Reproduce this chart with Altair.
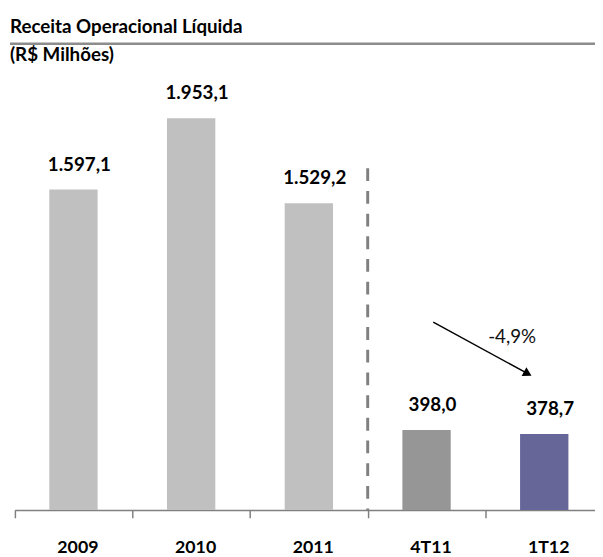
import altair as alt
import pandas as pd

# ---- data ----
categories = ["2009", "2010", "2011", "4T11", "1T12"]
values = [1597.1, 1953.1, 1529.2, 398.0, 378.7]
value_labels = ["1.597,1", "1.953,1", "1.529,2", "398,0", "378,7"]
bar_colors = ["#C0C0C0", "#C0C0C0", "#C0C0C0", "#969696", "#666699"]

# arrow (in band units along x, data units along y)
arrow_x = [3.557]
arrow_x2 = [4.36]
arrow_y = [936.2]
arrow_y2 = [679.4]
arrow_label = ["-4,9%"]
arrow_label_x = [4.227]
arrow_label_y = [861.0]

# dashed separator between annual and quarterly data
sep_x = [3.0]
sep_top = [1703.7]
sep_bottom = [0.0]

title_lines = ["Receita Operacional Líquida", "(R$ Milhões)"]

FONT = "Lato"
X_RANGE = [6.7, 603.2]
Y_DOMAIN = [0, 2140]

df = pd.DataFrame({"cat": categories, "val": values, "lab": value_labels})
arrow_df = pd.DataFrame({"x": arrow_x, "x2": arrow_x2, "y": arrow_y, "y2": arrow_y2})
label_df = pd.DataFrame({"x": arrow_label_x, "y": arrow_label_y, "t": arrow_label})
sep_df = pd.DataFrame({"x": sep_x, "y": sep_top, "y2": sep_bottom})
one = pd.DataFrame({"a": [0]})

xband = alt.Scale(domain=categories, range=X_RANGE, paddingInner=0, paddingOuter=0)
yscale = alt.Scale(domain=Y_DOMAIN, nice=False, zero=True)
xq = alt.Scale(domain=[0, 5], range=X_RANGE, nice=False, zero=False)

bars = alt.Chart(df).mark_bar(size=49).encode(
    x=alt.X("cat:N", scale=xband, sort=categories,
            axis=alt.Axis(title=None, labelAngle=0, tickBand="extent",
                          labelFont=FONT, labelFontSize=18, labelFontWeight="bold",
                          labelColor="#000000", labelPadding=21, labelOffset=4,
                          domainColor="#808080", domainWidth=1.5,
                          tickColor="#808080", tickWidth=1.5, tickSize=8,
                          grid=False)),
    y=alt.Y("val:Q", scale=yscale, axis=None),
    color=alt.Color("cat:N", scale=alt.Scale(domain=categories, range=bar_colors), legend=None),
)

texts = alt.Chart(df).mark_text(
    font=FONT, fontSize=19, fontWeight="bold", color="#000000",
    baseline="alphabetic", dy=-19, dx=6
).encode(
    x=alt.X("cat:N", scale=xband, sort=categories, axis=None),
    y=alt.Y("val:Q", scale=yscale, axis=None),
    text="lab:N",
)

sep = alt.Chart(sep_df).mark_rule(color="#808080", strokeWidth=3, strokeDash=[13, 10]).encode(
    x=alt.X("x:Q", scale=xq, axis=None),
    y=alt.Y("y:Q", scale=yscale, axis=None),
    y2="y2:Q",
)

arrow_line = alt.Chart(arrow_df).mark_rule(color="#000000", strokeWidth=1.5).encode(
    x=alt.X("x:Q", scale=xq, axis=None),
    x2="x2:Q",
    y=alt.Y("y:Q", scale=yscale, axis=None),
    y2="y2:Q",
)

arrow_head = alt.Chart(arrow_df).mark_point(
    shape="triangle-up", filled=True, color="#000000", size=100, angle=118.6, opacity=1
).encode(
    x=alt.X("x2:Q", scale=xq, axis=None),
    y=alt.Y("y2:Q", scale=yscale, axis=None),
)

arrow_text = alt.Chart(label_df).mark_text(
    font=FONT, fontSize=19, color="#111111", baseline="middle", align="center"
).encode(
    x=alt.X("x:Q", scale=xq, axis=None),
    y=alt.Y("y:Q", scale=yscale, axis=None),
    text="t:N",
)

title_rule = alt.Chart(one).mark_rule(color="#8c8c8c", strokeWidth=2.7).encode(
    x=alt.value(2), x2=alt.value(595), y=alt.value(-37.5)
)

title_main = alt.Chart(one).mark_text(
    text=title_lines[0], font=FONT, fontSize=19, fontWeight="bold", color="#000000",
    align="left", baseline="alphabetic"
).encode(x=alt.value(2), y=alt.value(-48))

title_sub = alt.Chart(one).mark_text(
    text=title_lines[1], font=FONT, fontSize=19, fontWeight="bold", color="#000000",
    align="left", baseline="alphabetic"
).encode(x=alt.value(2), y=alt.value(-19.7))

chart = alt.layer(
    title_rule, title_main, title_sub, bars, texts, sep, arrow_line, arrow_head, arrow_text
).resolve_scale(
    x="independent"
).properties(
    width=595,
    height=435,
    autosize=alt.AutoSizeParams(type="none"),
    padding={"top": 70, "left": 0, "right": 0, "bottom": 44},
    background="#ffffff",
).configure_view(strokeWidth=0)

chart.save("out.html", embed_options={"renderer": "svg", "actions": False})
